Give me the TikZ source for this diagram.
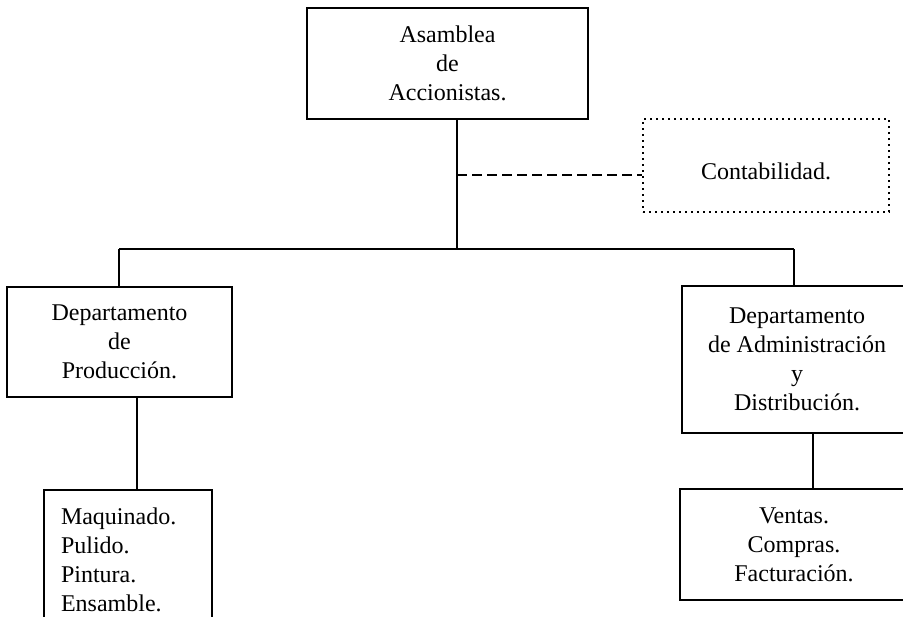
\documentclass[tikz,border=0pt]{standalone}
\usepackage{fontspec}
\setmainfont{Liberation Serif}
\usetikzlibrary{calc}
\tikzset{%
  caja/.style={draw, rectangle, line width=0.8pt, inner sep=0pt, align=center,
               font=\fontsize{12}{14.5}\selectfont},
  punteada/.style={caja, line width=1.2pt, dash pattern=on 1pt off 2pt},
  rama/.style={line width=0.7pt},
  guion/.style={rama, dash pattern=on 5pt off 2.5pt},
}

\begin{document}
\begin{tikzpicture}[x=0.5pt, y=-0.5pt]
    \clip (0,0) rectangle (903,616);

    % boxes
    \node[caja, minimum width=140.5pt, minimum height=55.5pt] (asamblea) at (447.5,63.5) {Asamblea\\de\\Accionistas.};
    \node[punteada, minimum width=123pt, minimum height=46.5pt] (conta) at (766,165.5) {\raisebox{-4pt}[9pt][3pt]{Contabilidad.}};
    \node[caja, minimum width=112.5pt, minimum height=55pt] (prod) at (119.5,342) {Departamento\\de\\Producción.};
    \node[caja, minimum width=115pt, minimum height=73.5pt] (admin) at (797,359.5) {Departamento\\de Administración\\y\\Distribución.};
    \node[caja, align=left, text width=67pt, inner xsep=8.5pt, minimum height=70pt] (maq) at (128,560) {Maquinado.\\Pulido.\\Pintura.\\Ensamble.};
    \node[caja, minimum width=114pt, minimum height=55.5pt] (ventas) at (794,544.5) {Ventas.\\Compras.\\Facturación.};

    % main trunk and bus
    \coordinate (T) at (457,249);
    \coordinate (L) at (119,249);
    \coordinate (R) at (794,249);
    \coordinate (D) at (457,175);
    \draw[rama] (asamblea.south -| T) -- (T);
    \draw[rama] (L) -- (R);
    \draw[rama] (L) -- (prod.north -| L);
    \draw[rama] (R) -- (admin.north -| R);

    % staff line
    \draw[guion] (D) -- (conta.west |- D);

    % lower branches
    \coordinate (P) at (137,0);
    \coordinate (V) at (813,0);
    \draw[rama] (prod.south -| P) -- (maq.north -| P);
    \draw[rama] (admin.south -| V) -- (ventas.north -| V);

\end{tikzpicture}
\end{document}
